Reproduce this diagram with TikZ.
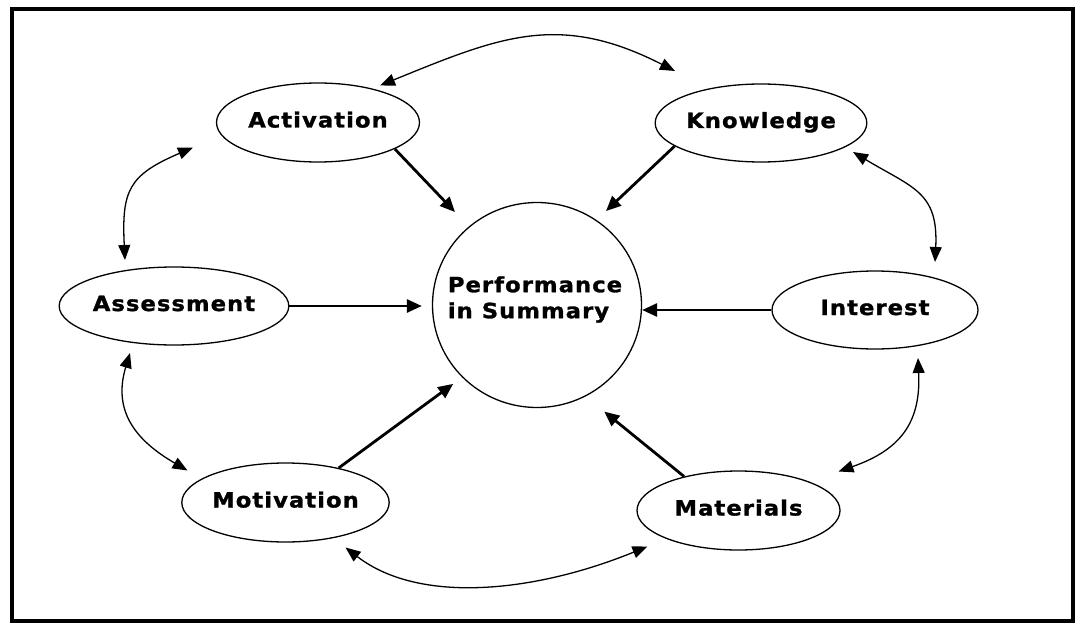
\documentclass[tikz,border=0pt]{standalone}
\usepackage{fontspec}
\newfontfamily\lblfont[FakeStretch=1.08,LetterSpace=5,BoldFeatures={FakeBold=1.3}]{DejaVu Sans}
\usetikzlibrary{shapes.geometric,arrows.meta,calc}
\begin{document}
\begin{tikzpicture}[x=1pt,y=-1pt,
  lblfnt/.style={font=\lblfont\bfseries\fontsize{21}{26}\selectfont},
  lbl/.style={ellipse,draw,line width=1.3pt,inner sep=0pt,lblfnt,text height=10pt,text depth=0pt},
  thickarrow/.style={line width=2.8pt,-{Triangle[length=15pt,width=13pt]}},
  link/.style={line width=1.3pt,{Triangle[length=15pt,width=12pt]}-{Triangle[length=15pt,width=12pt]}}]
\useasboundingbox (0,0) rectangle (1076,623);
\draw[line width=3.5pt] (12,9) rectangle (1073,621);

\node[lbl,minimum width=203pt,minimum height=79pt] (act) at (318,122.5) {Activation};
\node[lbl,minimum width=208pt,minimum height=78pt] (know) at (761,123) {Knowledge};
\node[lbl,minimum width=209pt,minimum height=205pt] (perf) at (537,305) {};
\node[lblfnt,align=left,inner sep=0pt] (perftxt) at (535,299.5) {Performance\\in Summary};
\node[lbl,minimum width=208pt,minimum height=78pt] (assess) at (174,306) {Assessment};
\node[lbl,minimum width=206pt,minimum height=78pt] (inter) at (875,310) {Interest};
\node[lbl,minimum width=201pt,minimum height=79pt] (motiv) at (285.5,502.5) {Motivation};
\node[lbl,minimum width=203pt,minimum height=79pt] (mat) at (738.5,510.5) {Materials};

\draw[thickarrow,shorten >=20pt] (act.-19) -- (perf.131);
\draw[thickarrow,shorten >=13pt] (know.195) -- (perf.55);
\draw[thickarrow,shorten >=10pt] (assess.east) -- (assess.east -| perf.west);
\draw[thickarrow] (inter.west) -- (inter.west -| perf.east);
\draw[thickarrow,shorten >=11pt] (motiv.33) -- (perf.224);
\draw[thickarrow,shorten >=24pt] (mat.148) -- (perf.-62);

\draw[link] ($(act)+(62,-37)$) .. controls (500.5,36.3) and (559,12) .. ($(know)+(-86,-52)$);
\draw[link] ($(act)+(-125,25)$) .. controls (129,175) and (121.5,190) .. ($(assess)+(-49,-46)$);
\draw[link] ($(assess)+(-44,47)$) .. controls (112.6,410.6) and (135,440) .. ($(motiv)+(-98,-32)$);
\draw[link] ($(motiv)+(60,45)$) .. controls (420,605) and (536,592) .. ($(mat)+(-91,36)$);
\draw[link] ($(inter)+(43,48)$) .. controls (921,423) and (900,450) .. ($(mat)+(100,-39)$);
\draw[link] ($(know)+(92,29)$) .. controls (913,188) and (938.5,192) .. ($(inter)+(60,-48)$);
\end{tikzpicture}
\end{document}
